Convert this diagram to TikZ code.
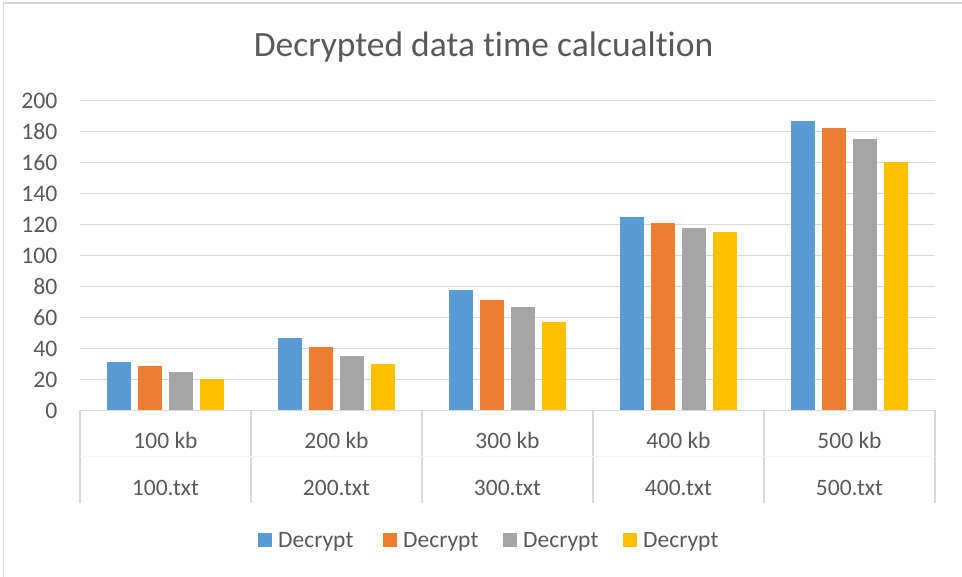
\documentclass[tikz,border=0pt]{standalone}
\usepackage{fontspec}
\setmainfont{Carlito}[Ligatures=NoCommon]
\usepackage{tikz}

\definecolor{serblue}{HTML}{5B9BD5}
\definecolor{serorange}{HTML}{ED7D31}
\definecolor{sergray}{HTML}{A5A5A5}
\definecolor{seryellow}{HTML}{FFC000}
\definecolor{gridgray}{HTML}{D9D9D9}
\definecolor{txtgray}{HTML}{595959}

\tikzset{
    ticklabel/.style={anchor=east, inner sep=0pt, text=txtgray, font=\fontsize{23.7}{28}\selectfont},
    catlabel/.style={anchor=base, inner sep=0pt, text=txtgray, font=\fontsize{23.5}{28}\selectfont},
    legendtext/.style={anchor=base west, inner sep=0pt, text=txtgray, font=\fontsize{23.5}{28}\selectfont},
}

\begin{document}
\begin{tikzpicture}[x=1pt, y=-1pt]
    \useasboundingbox (0,0) rectangle (962,577);

    % Chart frame (only top and left edges are visible)
    \draw[gridgray, line width=1.5pt] (3.5,577) -- (3.5,3) -- (962,3);

    % Title (kerns keep "t" and "i" apart)
    \node[anchor=base, inner sep=0pt, text=txtgray, font=\fontsize{35.5}{40}\selectfont] (title) at (483.5,57) {Decrypted data t\kern0pt ime calcualt\kern0pt ion};

    % Gridlines and value axis
    \foreach \v in {0,20,...,200} {
        \draw[gridgray, line width=1.5pt] (80,410.5-1.55*\v) -- (935,410.5-1.55*\v);
        \node[ticklabel] (tick\v) at (57.5,410.5-1.55*\v) {\v};
    }

    % Category boxes below the axis
    \foreach \k in {0,...,5}
        \draw[gridgray, line width=1.5pt] (80+171*\k,410.5) -- (80+171*\k,503);
    \draw[gray!7, line width=1pt] (80,457) -- (935,457);

    % Bars, one group per file
    \foreach \g/\a/\b/\c/\d in {0/31/29/25/20, 1/47/41/35/30, 2/78/71/67/57, 3/125/121/118/115, 4/187/182/175/160} {
        \pgfmathsetmacro{\cx}{165.5+171*\g}
        \fill[serblue]   (\cx-46.65-12.2,410.5) rectangle (\cx-46.65+12.2,410.5-1.55*\a);
        \fill[serorange] (\cx-15.55-12.2,410.5) rectangle (\cx-15.55+12.2,410.5-1.55*\b);
        \fill[sergray]   (\cx+15.55-12.2,410.5) rectangle (\cx+15.55+12.2,410.5-1.55*\c);
        \fill[seryellow] (\cx+46.65-12.2,410.5) rectangle (\cx+46.65+12.2,410.5-1.55*\d);
    }

    % Category labels
    \foreach \g/\s in {0/100, 1/200, 2/300, 3/400, 4/500} {
        \node[catlabel] (size\s) at (165.5+171*\g,448.3) {\s{} kb};
        \node[catlabel] (file\s) at (165.5+171*\g,496) {\s.txt};
    }

    % Legend
    \foreach \x/\c/\n in {258/serblue/a, 383/serorange/b, 503/sergray/c, 623/seryellow/d} {
        \fill[\c] (\x,533) rectangle (\x+14,547);
        \node[legendtext] (leg\n) at (\x+20,547) {Decrypt};
    }
\end{tikzpicture}
\end{document}
